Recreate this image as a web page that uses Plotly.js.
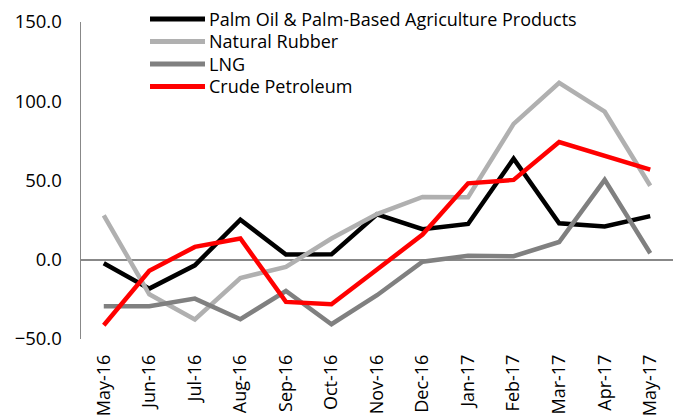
<!DOCTYPE html>
<html>
<head>
<meta charset="utf-8">
<script src="https://cdn.plot.ly/plotly-3.0.1.min.js"></script>
<style>html,body{margin:0;padding:0;background:#fff}#chart{width:677px;height:417px}</style>
</head>
<body>
<div id="chart"></div>
<script>
const months = ["May-16","Jun-16","Jul-16","Aug-16","Sep-16","Oct-16","Nov-16","Dec-16","Jan-17","Feb-17","Mar-17","Apr-17","May-17"];
const palmOil = [-2.2,-18.2,-3.5,25.3,3.3,3.4,28.7,19.3,22.6,63.8,23,21,27.5];
const naturalRubber = [28,-21.8,-37.7,-11.5,-4.5,13.4,28.8,39.6,39.4,85.7,111.6,93.4,46.7];
const lng = [-29.3,-29.3,-24.5,-37.5,-19.7,-40.7,-22.4,-1.2,2.5,2.2,11.2,50.4,4.1];
const crude = [-41.3,-7,8.1,13.4,-26.6,-28.1,-6.2,15.9,48.2,50.4,74.3,65.3,56.9];
const names = ["Palm Oil & Palm-Based Agriculture Products","Natural Rubber","LNG","Crude Petroleum"];
const colors = ["#000000","#b0b0b0","#808080","#ff0000"];
const series = [palmOil, naturalRubber, lng, crude];

const traces = series.map((s,i)=>({
  x: months, y: s, name: names[i], type:'scatter', mode:'lines',
  line:{color:colors[i], width:4.5}, showlegend:false
}));

// custom legend (pixel layout converted to paper coords)
const plotL = 81, plotW = 592, plotT = 22, plotH = 317;
const px = x => (x - plotL) / plotW;
const py = y => (plotT + plotH - y) / plotH;
const legendRows = [19, 41.5, 64, 86.5];
const shapes = names.map((n,i)=>({
  type:'line', xref:'paper', yref:'paper',
  x0:px(150), x1:px(205), y0:py(legendRows[i]), y1:py(legendRows[i]),
  line:{color:colors[i], width:5}
}));
const font = {family:'"Open Sans", sans-serif', size:18, color:'#000'};
const annotations = names.map((n,i)=>({
  xref:'paper', yref:'paper', x:px(207), y:py(legendRows[i]),
  xanchor:'left', yanchor:'middle', text:n, showarrow:false, font:font
}));

const layout = {
  width:677, height:417,
  margin:{l:plotL, r:677-plotL-plotW, t:plotT, b:417-plotT-plotH},
  paper_bgcolor:'#fff', plot_bgcolor:'#fff',
  font: font,
  showlegend:false,
  shapes: shapes,
  annotations: annotations,
  xaxis:{type:'category', range:[-0.5,12.5], showline:false, showgrid:false, zeroline:false, tickangle:-90, ticks:'', tickfont:font, ticklabelstandoff:11, fixedrange:true},
  yaxis:{range:[-50,150], dtick:50, tickformat:'.1f', showline:true, linecolor:'#888', linewidth:1.5, showgrid:false, zeroline:true, zerolinecolor:'#888', zerolinewidth:1.5, ticks:'', tickfont:{...font, size:18.5}, ticklabelstandoff:14}
};
Plotly.newPlot('chart', traces, layout, {displayModeBar:false, staticPlot:true});
</script>
</body>
</html>
